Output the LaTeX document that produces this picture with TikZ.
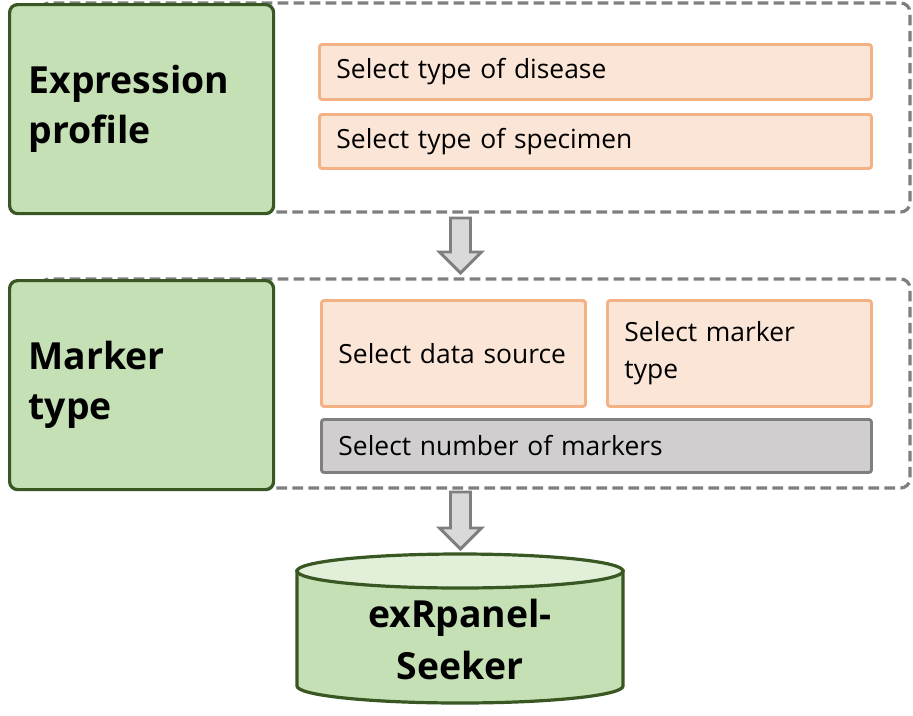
\documentclass[tikz,border=0pt]{standalone}
\usepackage{fontspec}
\setmainfont{Open Sans}
\definecolor{stagefill}{RGB}{197,224,180}
\definecolor{stagedraw}{RGB}{56,87,35}
\definecolor{optfill}{RGB}{251,229,214}
\definecolor{optdraw}{RGB}{244,177,131}
\definecolor{numfill}{RGB}{208,206,206}
\definecolor{greyline}{RGB}{127,127,127}
\definecolor{arrowfill}{RGB}{217,217,217}
\definecolor{dbtop}{RGB}{226,240,217}

\tikzset{every picture/.style={line width=0.75pt}}
\tikzset{
  stagebox/.style={draw=stagedraw, fill=stagefill, line width=2.4pt, rounded corners=6pt,
    anchor=north west, minimum width=198pt, minimum height=156.75pt, inner xsep=14.25pt,
    text width=169.5pt, align=left, font=\bfseries\fontsize{28}{37.5}\selectfont},
  groupbox/.style={draw=greyline, line width=2.4pt, dash pattern=on 8pt off 4pt, rounded corners=7pt},
  optbox/.style={draw=optdraw, fill=optfill, line width=2.2pt, rounded corners=2pt,
    anchor=north west, inner xsep=12.75pt, align=left, font=\fontsize{19.8}{27.5}\selectfont},
  numbox/.style={optbox, draw=greyline, fill=numfill},
  blockarrow/.style={draw=greyline, fill=arrowfill, line width=2.2pt, line join=miter},
  dbtext/.style={align=center, font=\bfseries\fontsize{28}{39}\selectfont}
}

\begin{document}
\begin{tikzpicture}[x=0.75pt,y=0.75pt,yscale=-1,xscale=1]
\useasboundingbox (0,0) rectangle (913,715);

%Expression profile
\draw[groupbox] (40,3) rectangle (910,212);
\node[stagebox] (expr) at (8,3) {Expression\\profile};
\node[optbox, minimum width=414pt, minimum height=41.25pt, text width=388.5pt] (disease) at (318,43) {Select type of disease};
\node[optbox, minimum width=414pt, minimum height=40.5pt, text width=388.5pt] (specimen) at (318,113) {Select type of specimen};

%Marker type
\draw[groupbox] (40,279) rectangle (910,488);
\node[stagebox] (marker) at (8,279) {Marker\\type};
\node[optbox, minimum width=198pt, minimum height=79.5pt, text width=172.5pt] (source) at (320,299) {Select data source};
\node[optbox, minimum width=198pt, minimum height=79.5pt, text width=172.5pt] (mtype) at (606,299) {Select marker\\type};
\node[numbox, minimum width=412.5pt, minimum height=39.75pt, text width=387pt] (number) at (320,418) {Select number of markers};

%Arrows
\coordinate (arrA) at (460.5,218);
\coordinate (arrB) at (460.5,492);
\foreach \a/\len in {arrA/34,arrB/36}
  \draw[blockarrow] (\a) ++(-10,0) -- ++(20,0) -- ++(0,\len) -- ++(11,0) -- ++(-21,21) -- ++(-21,-21) -- ++(11,0) -- cycle;

%Database
\draw[draw=stagedraw, fill=stagefill, line width=2.4pt] (297,571) -- (297,686)
  arc[start angle=180, end angle=0, x radius=163, y radius=17] -- (623,571) -- cycle;
\draw[draw=stagedraw, fill=dbtop, line width=2.4pt] (460,571) ellipse [x radius=163, y radius=17];
\node[dbtext] (seeker) at (460,639) {exRpanel-\\Seeker};

\end{tikzpicture}
\end{document}
